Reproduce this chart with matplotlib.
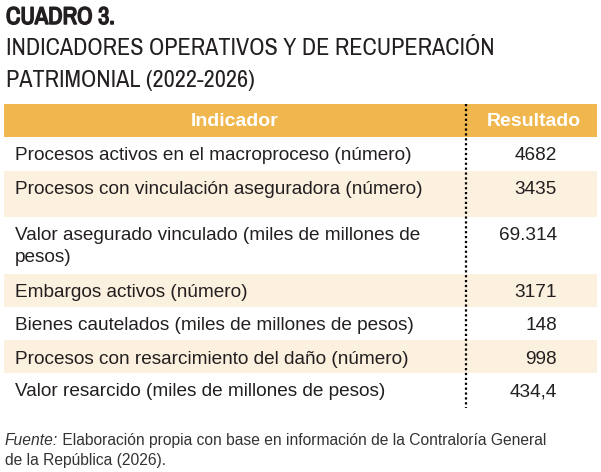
import matplotlib
matplotlib.use("Agg")
import matplotlib.pyplot as plt
from matplotlib import font_manager
import matplotlib.patheffects as pe
from matplotlib.patches import Rectangle

# table content
title_num = "CUADRO 3."
title_lines = ["INDICADORES OPERATIVOS Y DE RECUPERACIÓN",
               "PATRIMONIAL (2022-2026)"]
col_headers = ["Indicador", "Resultado"]
indicators = [
    ["Procesos activos en el macroproceso (número)"],
    ["Procesos con vinculación aseguradora (número)"],
    ["Valor asegurado vinculado (miles de millones de", "pesos)"],
    ["Embargos activos (número)"],
    ["Bienes cautelados (miles de millones de pesos)"],
    ["Procesos con resarcimiento del daño (número)"],
    ["Valor resarcido (miles de millones de pesos)"],
]
results = ["4682", "3435", "69.314", "3171", "148", "998", "434,4"]
source_label = "Fuente:"
source_text = [" Elaboración propia con base en información de la Contraloría General",
               "de la República (2026)."]

# layout (pixels)
W, H = 601, 472
row_h = [33.5, 46.5, 56.5, 33.5, 33, 33, 33]
head_top, head_bot = 103.5, 137
x0, x1, xdiv = 4, 597, 466
HEAD = "#f0b74e"
BEIGE = "#fcf1df"
TXT = "#231f20"

# look for a condensed face for the title
narrow = None
for f in font_manager.fontManager.ttflist:
    if "Narrow" in f.name or "Condensed" in f.name:
        narrow = f.name
        break
body = ["Liberation Sans", "DejaVu Sans"]
title_family = [narrow, "DejaVu Sans"] if narrow else body

fig = plt.figure(figsize=(W / 100, H / 100), dpi=100)
ax = fig.add_axes([0, 0, 1, 1])
ax.set_xlim(0, W)
ax.set_ylim(H, 0)
ax.axis("off")

t1 = ax.text(6, 24, title_num, family=title_family, fontweight="bold",
             fontsize=20, color=TXT, va="baseline",
             path_effects=[pe.withStroke(linewidth=1.1, foreground=TXT)])
tl = []
for i, line in enumerate(title_lines):
    tl.append(ax.text(6, 55 + i * 32, line, family=title_family, fontsize=20,
                      color=TXT, va="baseline"))
fig.canvas.draw()
# fit the title lines to their widths in the reference
w = tl[0].get_window_extent().width
fs = 20 * 490 / w
for t in tl:
    t.set_fontsize(fs)
w1 = t1.get_window_extent().width
t1.set_fontsize(20 * 109 / w1)

# header
ax.add_patch(Rectangle((x0, head_top), x1 - x0, head_bot - head_top,
                       color=HEAD, lw=0))
ax.text((x0 + xdiv) / 2, (head_top + head_bot) / 2 + 1, col_headers[0],
        family=body, fontweight="bold", fontsize=14, color="white",
        ha="center", va="center")
ax.text((xdiv + x1) / 2 + 2, (head_top + head_bot) / 2 + 1, col_headers[1],
        family=body, fontweight="bold", fontsize=14, color="white",
        ha="center", va="center")

# body rows
top = head_bot
for i, (lab, val) in enumerate(zip(indicators, results)):
    h = row_h[i]
    if i % 2 == 1:
        ax.add_patch(Rectangle((x0, top), x1 - x0, h, color=BEIGE, lw=0))
    for j, line in enumerate(lab):
        ax.text(15, top + 23.5 + j * 21, line, family=body, fontsize=13.7,
                color=TXT, va="baseline")
    ax.text(557, top + 23.5, val, family=body, fontsize=13.7, color=TXT,
            va="baseline", ha="right")
    top += h

ax.plot([xdiv, xdiv], [head_top, top + 2], color="black", lw=1.6,
        linestyle=(0, (1, 1.2)))

# source note
t = ax.text(5, 445, source_label, family=body, fontstyle="italic",
            fontsize=11.25, color="#333333", va="baseline")
fig.canvas.draw()
bb = t.get_window_extent()
ax.text(5 + bb.width, 445, source_text[0], family=body, fontsize=11.25,
        color="#333333", va="baseline")
ax.text(5, 465, source_text[1], family=body, fontsize=11.25, color="#333333",
        va="baseline")

fig.savefig("out.png", dpi=100)
